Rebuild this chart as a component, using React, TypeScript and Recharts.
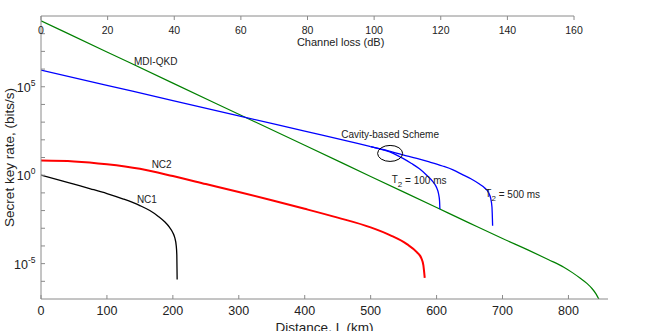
import React from "react";
import { LineChart, Line, XAxis, YAxis, ReferenceDot, ReferenceLine } from "recharts";

// distances in km, rates in bits/s
const mdiDist = [0, 100, 200, 300, 400, 500, 600, 650, 700, 740, 770, 793, 806, 818, 828, 836, 842, 847];
const mdiRate = [5.4e8, 9.3e6, 1.6e5, 2.8e3, 49, 0.85, 1.48e-2, 1.95e-3, 2.63e-4, 5.62e-5, 1.66e-5, 6.3e-6, 3.1e-6, 1.48e-6, 7.6e-7, 3.8e-7, 1.9e-7, 8.5e-8];

const cavityDist = [0, 100, 200, 300, 400, 480, 500];
const cavityRate = [8.7e5, 1.2e5, 1.66e4, 2.24e3, 309, 63, 41.7];

const t100Dist = [500, 520, 535, 549, 562, 574, 585, 594, 600, 603, 604.5, 605];
const t100Rate = [41.7, 26.3, 16.6, 8.91, 4.57, 2.29, 1.0, 0.447, 0.2, 0.0891, 0.0355, 0.0123];

const t500Dist = [500, 520, 549, 570, 589, 609, 625, 640, 652, 665, 673, 679, 682, 684, 685];
const t500Rate = [41.7, 27.5, 14.1, 8.9, 5.62, 3.31, 2.0, 1.05, 0.63, 0.316, 0.19, 0.1, 0.05, 0.0158, 1.38e-3];

const nc2Dist = [0, 50, 100, 150, 200, 250, 300, 350, 400, 450, 500, 530, 555, 570, 577, 580, 582];
const nc2Rate = [6.76, 6.03, 4.17, 2.29, 0.89, 0.316, 0.112, 0.038, 0.0126, 3.98e-3, 1.12e-3, 3.98e-4, 1.26e-4, 4.47e-5, 2.0e-5, 7.9e-6, 1.58e-6];

const nc1Dist = [0, 25, 50, 75, 100, 125, 150, 165, 178, 188, 195, 200, 203, 205, 206, 206.5];
const nc1Rate = [1.0, 0.562, 0.309, 0.17, 0.0912, 0.0447, 0.0191, 0.01, 4.68e-3, 2.24e-3, 1.12e-3, 5.62e-4, 2.82e-4, 1.12e-4, 3.16e-5, 1.26e-6];

const distTicks = [0, 100, 200, 300, 400, 500, 600, 700, 800];
const lossTicks = [0, 20, 40, 60, 80, 100, 120, 140, 160];
const rateTicks = [1e-6, 1e-5, 1e-4, 1e-3, 1e-2, 1e-1, 1, 1e1, 1e2, 1e3, 1e4, 1e5, 1e6, 1e7, 1e8];
const labelledExps = [-5, 0, 5];

const toPoints = (xs: number[], ys: number[]) => xs.map((x, i) => ({ x, y: ys[i] }));

const FONT = '"Liberation Sans", Arial, sans-serif';
const AXIS = "#8a8a8a";

const PowerTick = (props: any) => {
  const { x, y, payload } = props;
  const exp = Math.round(Math.log10(payload.value));
  if (!labelledExps.includes(exp)) return null;
  return (
    <text x={x} y={y + 1} textAnchor="end" dominantBaseline="central" fontSize={12.5} fill="#222" fontFamily={FONT}>
      10
      <tspan dy={-5} fontSize={8.5}>{exp}</tspan>
    </text>
  );
};

const textShape = (label: string, size = 10) => (p: any) => (
  <text x={p.cx} y={p.cy} textAnchor="middle" dominantBaseline="central" fontSize={size} fill="#222" fontFamily={FONT}>
    {label}
  </text>
);

const t2Shape = (rest: string) => (p: any) => (
  <text x={p.cx} y={p.cy} dominantBaseline="central" fontSize={10} fill="#222" fontFamily={FONT}>
    T
    <tspan dy={4} fontSize={8}>2</tspan>
    <tspan dy={-4}>{rest}</tspan>
  </text>
);

export default function App() {
  return (
    <div>
      <style>{"body{margin:0}"}</style>
      <LineChart
        width={667}
        height={331}
        margin={{ top: 15, right: 59, bottom: 0, left: 0 }}
        style={{ fontFamily: FONT }}
      >
        <XAxis
          dataKey="x"
          type="number"
          domain={[0, 860]}
          allowDataOverflow
          ticks={distTicks}
          interval={0}
          height={32}
          stroke={AXIS}
          tickSize={-4}
          tickMargin={11}
          tick={{ fontSize: 12.5, fill: "#222" }}
          label={{ value: "Distance, L (km)", position: "insideBottom", offset: -1, fontSize: 13.5, fill: "#222" }}
        />
        <XAxis
          xAxisId="loss"
          dataKey="loss"
          orientation="top"
          type="number"
          domain={[0, 170.2]}
          allowDataOverflow
          ticks={lossTicks}
          interval={0}
          axisLine={false}
          height={1}
          stroke={AXIS}
          tickSize={-4}
          tickMargin={-13.8}
          tick={{ fontSize: 10.5, fill: "#222" }}
        />
        <YAxis
          scale="log"
          domain={[1e-7, 1e9]}
          allowDataOverflow
          ticks={rateTicks}
          interval={0}
          width={41}
          stroke={AXIS}
          tickSize={-4}
          tickMargin={9.5}
          tick={<PowerTick />}
          label={{
            content: (p: any) => {
              const vb = p.viewBox;
              const cx = vb.x + 9;
              const cy = vb.y + vb.height / 2;
              return (
                <text x={cx} y={cy} transform={`rotate(-90 ${cx} ${cy})`} textAnchor="middle" dominantBaseline="central" fontSize={13.5} fill="#222" fontFamily={FONT}>
                  Secret key rate, (bits/s)
                </text>
              );
            },
          }}
        />
        <ReferenceLine
          xAxisId="loss"
          segment={[{ x: 0, y: 1e9 }, { x: 160, y: 1e9 }]}
          stroke={AXIS}
          ifOverflow="visible"
        />
        <Line data={toPoints(mdiDist, mdiRate)} dataKey="y" type="monotone" stroke="#008000" strokeWidth={1.2} dot={false} isAnimationActive={false} />
        <Line data={toPoints(cavityDist, cavityRate)} dataKey="y" type="monotone" stroke="#0000ff" strokeWidth={1.3} dot={false} isAnimationActive={false} />
        <Line data={toPoints(t100Dist, t100Rate)} dataKey="y" type="monotone" stroke="#0000ff" strokeWidth={1.3} dot={false} isAnimationActive={false} />
        <Line data={toPoints(t500Dist, t500Rate)} dataKey="y" type="monotone" stroke="#0000ff" strokeWidth={1.3} dot={false} isAnimationActive={false} />
        <Line data={toPoints(nc2Dist, nc2Rate)} dataKey="y" type="monotone" stroke="#ff0000" strokeWidth={2} dot={false} isAnimationActive={false} />
        <Line data={toPoints(nc1Dist, nc1Rate)} dataKey="y" type="monotone" stroke="#000000" strokeWidth={1.3} dot={false} isAnimationActive={false} />
        <ReferenceDot
          x={529.5}
          y={17}
          r={0}
          ifOverflow="visible"
          shape={(p: any) => <ellipse cx={p.cx} cy={p.cy} rx={12.5} ry={8} fill="none" stroke="#000" strokeWidth={1} />}
        />
        <ReferenceDot x={454.5} y={3.3e7} r={0} ifOverflow="visible" shape={textShape("Channel loss (dB)", 11)} />
        <ReferenceDot x={174} y={2.8e6} r={0} ifOverflow="visible" shape={textShape("MDI-QKD")} />
        <ReferenceDot x={529.5} y={200} r={0} ifOverflow="visible" shape={textShape("Cavity-based Scheme")} />
        <ReferenceDot x={183} y={4} r={0} ifOverflow="visible" shape={textShape("NC2")} />
        <ReferenceDot x={160.6} y={0.042} r={0} ifOverflow="visible" shape={textShape("NC1")} />
        <ReferenceDot x={532} y={0.56} r={0} ifOverflow="visible" shape={t2Shape(" = 100 ms")} />
        <ReferenceDot x={674} y={0.091} r={0} ifOverflow="visible" shape={t2Shape(" = 500 ms")} />
      </LineChart>
    </div>
  );
}
